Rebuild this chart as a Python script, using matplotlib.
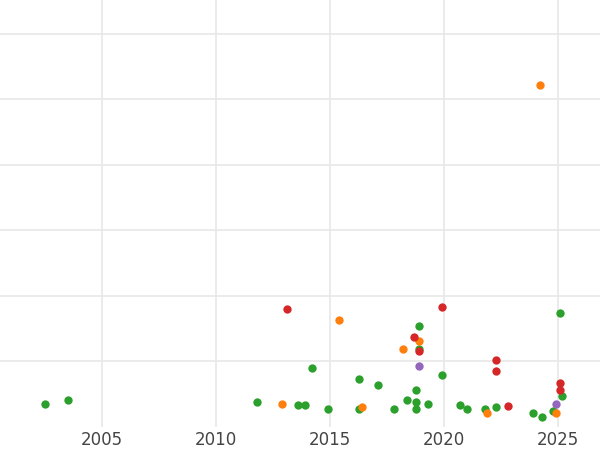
import matplotlib
matplotlib.use("Agg")
import matplotlib.pyplot as plt

green_x = [2002.5, 2003.5, 2011.8, 2013.6, 2013.9, 2014.2, 2014.9, 2016.3, 2016.3, 2017.1,
           2017.8, 2018.4, 2018.8, 2018.8, 2018.8, 2018.9, 2018.9, 2019.3, 2019.9, 2020.7,
           2021.0, 2021.8, 2022.3, 2023.9, 2024.3, 2024.8, 2025.2, 2025.1]
green_y = [0.34, 0.41, 0.38, 0.32, 0.33, 0.89, 0.26, 0.73, 0.26, 0.64,
           0.27, 0.41, 0.27, 0.38, 0.56, 1.53, 1.19, 0.34, 0.79, 0.32,
           0.26, 0.27, 0.29, 0.21, 0.15, 0.23, 0.47, 1.74]
orange_x = [2024.2, 2012.9, 2015.4, 2016.4, 2018.2, 2018.9, 2021.9, 2024.9]
orange_y = [5.22, 0.34, 1.63, 0.29, 1.18, 1.31, 0.20, 0.20]
red_x = [2013.1, 2019.9, 2018.7, 2018.9, 2022.3, 2022.3, 2022.8, 2025.1, 2025.1]
red_y = [1.79, 1.83, 1.36, 1.15, 1.01, 0.84, 0.31, 0.67, 0.56]
purple_x = [2018.9, 2024.9]
purple_y = [0.92, 0.34]

fig = plt.figure(figsize=(6, 4.5), dpi=100)
ax = fig.add_axes([0, 0.051, 1, 0.949])

ax.scatter(green_x, green_y, s=36, color="#2ca02c", zorder=3, linewidths=0)
ax.scatter(orange_x, orange_y, s=36, color="#ff7f0e", zorder=3, linewidths=0)
ax.scatter(red_x, red_y, s=36, color="#d62728", zorder=3, linewidths=0)
ax.scatter(purple_x, purple_y, s=36, color="#9467bd", zorder=3, linewidths=0)

ax.set_xlim(2000.53, 2026.85)
ax.set_ylim(-0.01, 6.52)
ax.set_xticks([2005, 2010, 2015, 2020, 2025])
ax.set_xticks([2005, 2015, 2025], minor=True)
ax.set_yticks([1, 2, 3, 4, 5, 6])
ax.set_yticklabels([])
ax.grid(True, which="major", color="#e8e8e8", linewidth=1.2)
ax.grid(True, which="minor", axis="x", color="#f2f2f2", linewidth=0.8)
ax.tick_params(axis="x", length=0, labelsize=12, labelcolor="#444444", pad=3)
ax.tick_params(axis="y", length=0)
ax.tick_params(which="minor", length=0)
for s in ax.spines.values():
    s.set_visible(False)

fig.savefig("out.png")
